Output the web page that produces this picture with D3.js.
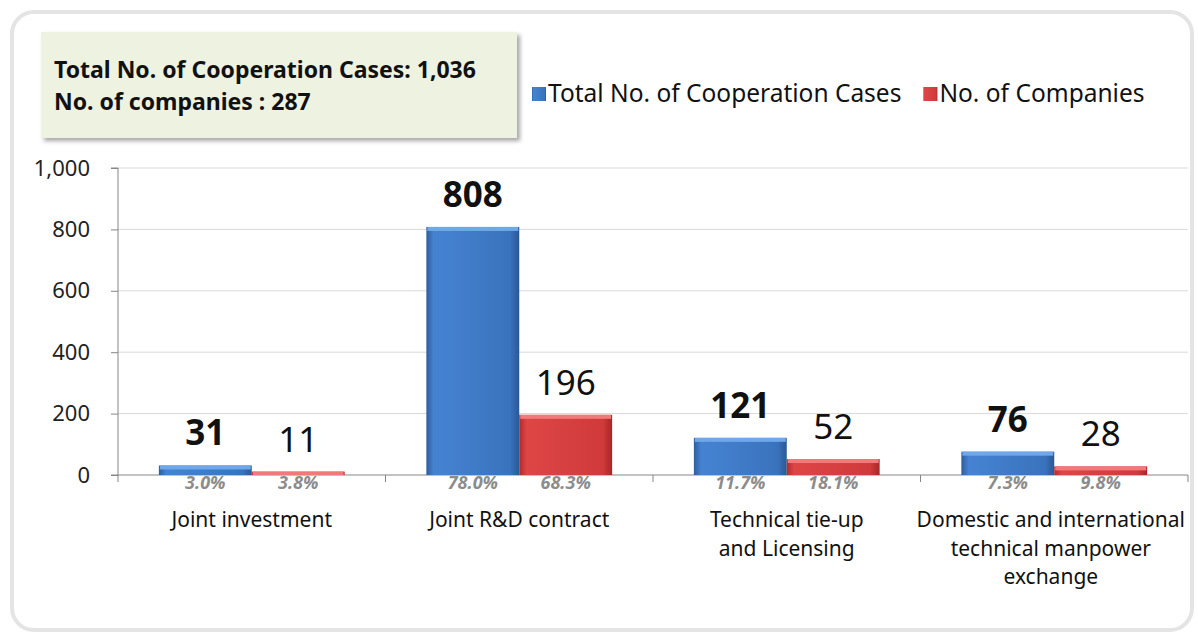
<!DOCTYPE html>
<html>
<head>
<meta charset="utf-8">
<script src="https://cdn.jsdelivr.net/npm/d3@7"></script>
<style>
  body { margin: 0; background: #fff; }
  svg { display: block; font-family: "Noto Sans", "Open Sans", sans-serif; }
</style>
</head>
<body>
<svg id="chart"></svg>
<script>
const categories = ['Joint investment', 'Joint R&D contract', 'Technical tie-up and Licensing', 'Domestic and international technical manpower exchange'];
const categoryLines = [
  ['Joint investment'],
  ['Joint R&D contract'],
  ['Technical tie-up', 'and Licensing'],
  ['Domestic and international', 'technical manpower', 'exchange']
];
const seriesNames = ['Total No. of Cooperation Cases', 'No. of Companies'];
const cases = [31, 808, 121, 76];
const companies = [11, 196, 52, 28];
const casesPct = ['3.0%', '78.0%', '11.7%', '7.3%'];
const companiesPct = ['3.8%', '68.3%', '18.1%', '9.8%'];
const yTicks = [0, 200, 400, 600, 800, 1000];
const summaryLines = ['Total No. of Cooperation Cases: 1,036', 'No. of companies : 287'];

const svgWidth = 1198;
const svgHeight = 638;
const plot = { left: 118, right: 1188, top: 168, bottom: 475 };

const svg = d3.select('#chart')
  .attr('width', svgWidth)
  .attr('height', svgHeight);

const defs = svg.append('defs');

// bar shading: darker at the sides, lighter in the middle
const shades = {
  blue: ['#2d5e9e', '#4583d2', '#3a73bd', '#2a5894'],
  red: ['#b32a2a', '#de4646', '#d03a3a', '#a82626']
};
Object.entries(shades).forEach(([name, c]) => {
  const g = defs.append('linearGradient').attr('id', 'grad-' + name)
    .attr('x1', '0%').attr('x2', '100%').attr('y1', '0%').attr('y2', '0%');
  g.append('stop').attr('offset', '0%').attr('stop-color', c[0]);
  g.append('stop').attr('offset', '8%').attr('stop-color', c[1]);
  g.append('stop').attr('offset', '90%').attr('stop-color', c[2]);
  g.append('stop').attr('offset', '100%').attr('stop-color', c[3]);
});
const tops = { blue: '#6ea8ea', red: '#f07a7a' };

const shadow = defs.append('filter').attr('id', 'shadow')
  .attr('x', '-5%').attr('y', '-10%').attr('width', '115%').attr('height', '130%');
shadow.append('feDropShadow').attr('dx', 3).attr('dy', 3).attr('stdDeviation', 2)
  .attr('flood-color', '#000').attr('flood-opacity', 0.35);

// outer panel
svg.append('rect')
  .attr('x', 12).attr('y', 12)
  .attr('width', 1180).attr('height', 618)
  .attr('rx', 22)
  .attr('fill', '#fff')
  .attr('stroke', '#e4e4e4')
  .attr('stroke-width', 4);

// summary box
svg.append('rect')
  .attr('x', 41).attr('y', 32)
  .attr('width', 476).attr('height', 106)
  .attr('fill', '#eef2e1')
  .attr('filter', 'url(#shadow)');

svg.append('g').selectAll('text')
  .data(summaryLines)
  .join('text')
  .attr('x', 54)
  .attr('y', (d, i) => 78 + i * 31.5)
  .attr('font-size', 23)
  .attr('font-weight', 'bold')
  .attr('fill', '#111')
  .text(d => d);

// scales
const x0 = d3.scaleBand()
  .domain(categories)
  .range([plot.left, plot.right])
  .padding(0);

const x1 = d3.scaleBand()
  .domain(seriesNames)
  .range([0, x0.bandwidth()])
  .paddingInner(0)
  .paddingOuter(0.44);

const y = d3.scaleLinear()
  .domain([0, 1000])
  .range([plot.bottom, plot.top]);

// gridlines
svg.append('g')
  .selectAll('line')
  .data(yTicks.filter(d => d > 0))
  .join('line')
  .attr('x1', plot.left).attr('x2', plot.right)
  .attr('y1', d => y(d)).attr('y2', d => y(d))
  .attr('stroke', '#d9d9d9')
  .attr('stroke-width', 1);

// y axis
const yAxis = svg.append('g')
  .attr('transform', `translate(${plot.left},0)`)
  .call(d3.axisLeft(y).tickValues(yTicks).tickSize(7).tickPadding(21).tickFormat(d3.format(',')));
yAxis.select('.domain').attr('stroke', '#868686').attr('d', `M-7,${plot.top}H0V${plot.bottom}`);
yAxis.selectAll('.tick line').attr('stroke', '#868686');
yAxis.selectAll('.tick text')
  .attr('font-size', 22)
  .attr('font-family', '"Noto Sans", sans-serif')
  .attr('fill', '#222');

// x axis line and category ticks
const xAxis = svg.append('g')
  .attr('transform', `translate(0,${plot.bottom})`);
xAxis.append('line')
  .attr('x1', plot.left - 7).attr('x2', plot.right)
  .attr('stroke', '#868686');
xAxis.selectAll('.ctick')
  .data(categories.concat(['end']))
  .join('line')
  .attr('class', 'ctick')
  .attr('x1', d => d === 'end' ? plot.right : x0(d))
  .attr('x2', d => d === 'end' ? plot.right : x0(d))
  .attr('y1', 0).attr('y2', 7)
  .attr('stroke', '#868686');

// bars
const rows = categories.map((c, i) => ({
  cat: c,
  items: [
    { key: seriesNames[0], value: cases[i], pct: casesPct[i], color: 'blue', bold: true },
    { key: seriesNames[1], value: companies[i], pct: companiesPct[i], color: 'red', bold: false }
  ]
}));

const groups = svg.append('g')
  .selectAll('g')
  .data(rows)
  .join('g')
  .attr('transform', d => `translate(${x0(d.cat)},0)`);

const bars = groups.selectAll('g.bar')
  .data(d => d.items)
  .join('g')
  .attr('class', 'bar');

bars.append('rect')
  .attr('x', d => x1(d.key))
  .attr('y', d => y(d.value))
  .attr('width', x1.bandwidth())
  .attr('height', d => plot.bottom - y(d.value))
  .attr('fill', d => `url(#grad-${d.color})`);

// bevel on top of each bar
bars.append('rect')
  .attr('x', d => x1(d.key) + 1)
  .attr('y', d => y(d.value))
  .attr('width', x1.bandwidth() - 2)
  .attr('height', d => Math.min(4, plot.bottom - y(d.value)))
  .attr('fill', d => tops[d.color]);

// value labels
bars.append('text')
  .attr('x', d => x1(d.key) + x1.bandwidth() / 2)
  .attr('y', d => y(d.value) - 20)
  .attr('text-anchor', 'middle')
  .attr('font-size', 35)
  .attr('font-weight', d => d.bold ? 'bold' : 'normal')
  .attr('fill', '#111')
  .text(d => d3.format(',')(d.value));

// percentage labels under the axis
bars.append('text')
  .attr('x', d => x1(d.key) + x1.bandwidth() / 2)
  .attr('y', plot.bottom + 14)
  .attr('text-anchor', 'middle')
  .attr('font-size', 18)
  .attr('font-style', 'italic')
  .attr('font-weight', 'bold')
  .attr('fill', '#8c8c8c')
  .text(d => d.pct);

// category labels, kept inside the plot on the right like the original
const catText = groups.append('text')
  .attr('text-anchor', 'middle')
  .attr('font-size', 21)
  .attr('fill', '#111');
catText.selectAll('tspan')
  .data((d, i) => categoryLines[i])
  .join('tspan')
  .attr('y', (d, i) => 527 + i * 28.5)
  .text(d => d);
catText.each(function (d) {
  const t = d3.select(this);
  const w = d3.max(t.selectAll('tspan').nodes(), n => n.getComputedTextLength());
  const cx = x0(d.cat) + x0.bandwidth() / 2;
  const shift = Math.min(0, plot.right - 3 - (cx + w / 2));
  t.selectAll('tspan').attr('x', x0.bandwidth() / 2 + shift);
});

// legend
const legend = svg.append('g').attr('transform', 'translate(532,102)');
let lx = 0;
seriesNames.forEach((name, i) => {
  const color = i === 0 ? 'blue' : 'red';
  legend.append('rect')
    .attr('x', lx).attr('y', -15)
    .attr('width', 14).attr('height', 14)
    .attr('fill', `url(#grad-${color})`);
  const t = legend.append('text')
    .attr('x', lx + 16)
    .attr('font-size', 24.5)
    .attr('fill', '#111')
    .text(name);
  lx += 16 + t.node().getComputedTextLength() + 22;
});
</script>
</body>
</html>
